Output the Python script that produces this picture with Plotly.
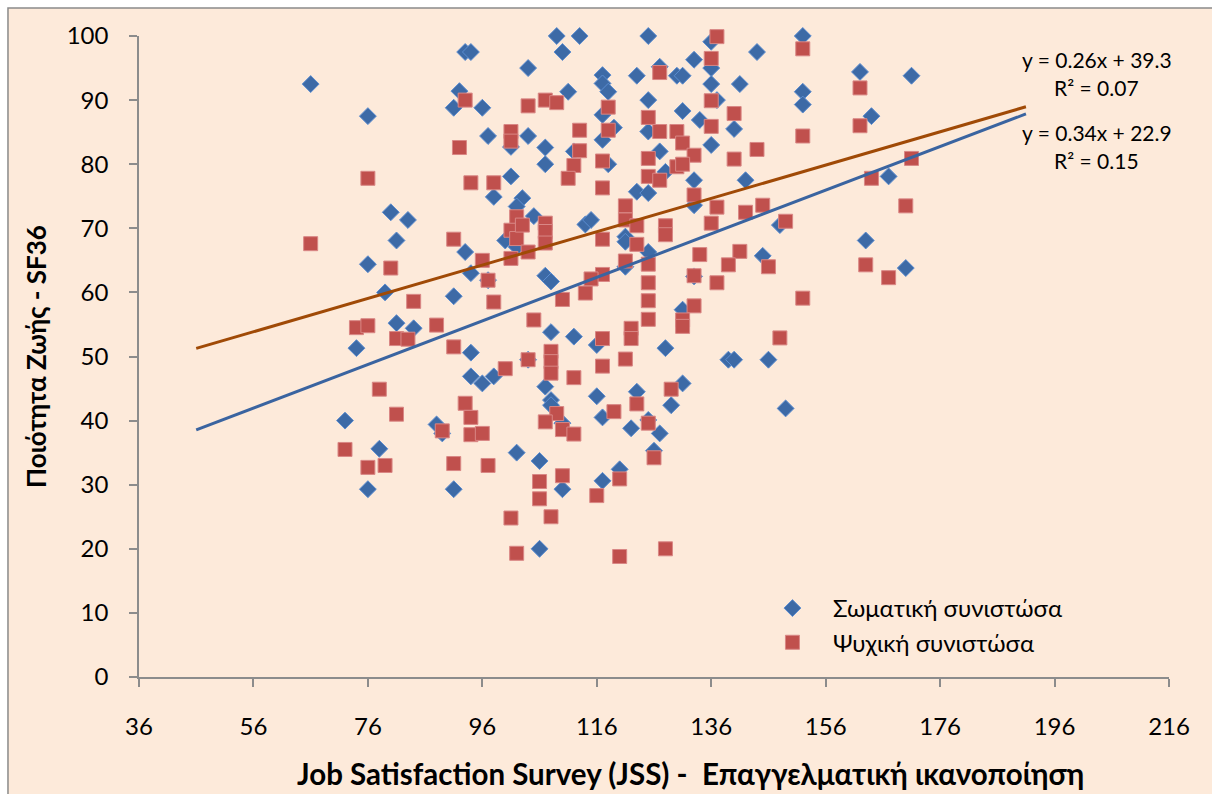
import plotly.graph_objects as go

# Σωματική συνιστώσα (physical component): JSS score vs SF36
jss_phys = [66, 76, 93, 94, 92, 91, 96, 97, 98, 80, 83, 81, 76, 93, 94, 79, 91, 97, 81, 84,
            74, 94, 94, 96, 98, 100, 72, 78, 76, 88, 89, 91, 109, 113, 125, 110, 104, 117, 117, 118,
            111, 123, 127, 130, 131, 133, 125, 131, 134, 117, 119, 104, 101, 107, 107, 112, 117, 118, 125, 127,
            128, 133, 101, 103, 123, 125, 152, 144, 141, 152, 152, 162, 171, 164, 140, 137, 136, 142, 167, 136,
            136, 136, 102, 105, 114, 115, 121, 121, 125, 121, 102, 107, 108, 133, 131, 108, 112, 116, 128, 104,
            107, 131, 133, 148, 163, 170, 145, 139, 140, 146, 108, 108, 110, 116, 123, 129, 117, 122, 125, 127,
            126, 102, 106, 110, 117, 120, 106, 149]
sf36_phys = [92.5, 87.5, 97.5, 97.5, 91.4, 88.8, 88.8, 84.4, 74.9, 72.5, 71.3, 68.1, 64.4, 66.3, 63.0, 60.0, 59.4, 61.9, 55.2, 54.4,
             51.3, 50.6, 46.9, 45.8, 46.9, 68.1, 40.0, 35.6, 29.3, 39.4, 38.0, 29.3, 100.0, 100.0, 100.0, 97.5, 95.0, 93.9, 92.6, 91.3,
             91.3, 93.8, 95.2, 93.8, 93.8, 96.3, 90.0, 88.3, 86.9, 87.7, 85.7, 84.4, 82.7, 82.6, 80.0, 82.0, 83.8, 80.0, 85.1, 82.0,
             78.8, 77.5, 78.1, 74.7, 75.7, 75.5, 100.0, 97.5, 92.5, 91.3, 89.3, 94.4, 93.8, 87.5, 85.5, 90.0, 83.0, 77.5, 78.1, 99.1,
             95.0, 92.5, 73.4, 71.9, 70.6, 71.3, 68.7, 67.9, 66.3, 64.0, 67.1, 62.6, 61.7, 62.5, 57.3, 53.8, 53.1, 51.8, 51.3, 49.5,
             45.3, 45.8, 73.6, 70.5, 68.1, 63.8, 65.7, 49.5, 49.5, 49.5, 43.2, 42.4, 39.6, 43.8, 44.5, 42.4, 40.5, 38.8, 40.1, 38.0,
             35.3, 35.0, 33.7, 29.3, 30.6, 32.4, 20.0, 41.9]

# Ψυχική συνιστώσα (mental component): JSS score vs SF36
jss_ment = [93, 92, 76, 94, 98, 66, 80, 91, 96, 97, 84, 98, 74, 76, 88, 81, 83, 91, 78, 81,
            72, 76, 79, 89, 93, 94, 94, 96, 91, 97, 127, 104, 107, 109, 118, 101, 101, 113, 118, 125,
            127, 130, 131, 133, 130, 131, 125, 125, 127, 113, 112, 111, 117, 117, 121, 133, 137, 152, 136, 162,
            136, 140, 162, 152, 136, 144, 140, 171, 164, 137, 145, 142, 170, 121, 123, 102, 101, 102, 103, 107,
            107, 107, 104, 101, 117, 123, 128, 128, 134, 121, 125, 125, 125, 125, 133, 133, 131, 131, 117, 115,
            114, 110, 105, 122, 122, 117, 108, 108, 108, 104, 100, 112, 117, 121, 136, 149, 141, 139, 146, 137,
            163, 167, 152, 148, 109, 107, 110, 112, 119, 123, 129, 125, 126, 110, 106, 106, 116, 120, 101, 108,
            102, 120, 128]
sf36_ment = [90.0, 82.6, 77.8, 77.1, 77.1, 67.6, 63.8, 68.3, 65.0, 61.9, 58.6, 58.5, 54.5, 54.8, 54.9, 52.8, 52.7, 51.5, 44.9, 41.0,
             35.5, 32.7, 33.0, 38.4, 42.7, 40.5, 37.8, 38.0, 33.3, 33.0, 94.3, 89.1, 90.0, 89.6, 88.9, 85.1, 83.6, 85.3, 85.3, 87.3,
             85.1, 85.1, 83.3, 81.4, 79.6, 80.0, 80.9, 78.1, 77.5, 82.1, 79.8, 77.8, 80.5, 76.3, 73.5, 75.2, 99.9, 98.0, 96.5, 91.9,
             89.9, 87.9, 86.0, 84.4, 85.9, 82.3, 80.8, 80.9, 77.8, 73.3, 73.6, 72.5, 73.5, 71.3, 70.4, 71.8, 69.7, 68.4, 70.5, 70.8,
             69.5, 67.7, 66.3, 65.3, 68.3, 67.5, 70.4, 69.0, 65.9, 64.9, 64.4, 61.5, 58.7, 55.8, 62.6, 57.9, 55.7, 54.7, 62.8, 62.1,
             59.9, 58.9, 55.7, 54.4, 52.8, 52.8, 50.8, 49.2, 47.4, 49.5, 48.1, 46.7, 48.5, 49.6, 70.8, 71.1, 66.4, 64.3, 64.0, 61.5,
             64.3, 62.3, 59.1, 52.9, 41.1, 39.8, 38.6, 37.9, 41.4, 42.6, 44.9, 39.6, 34.2, 31.4, 30.5, 27.8, 28.3, 30.9, 24.8, 25.0,
             19.3, 18.8, 20.0]

# Linear trendlines (slope, intercept, R²) and their x extent
trend_phys = (0.34, 22.9, 0.15)
trend_ment = (0.26, 39.3, 0.07)
trend_x = [46, 191]

x_ticks = list(range(36, 217, 20))
y_ticks = list(range(0, 101, 10))

x_title = "Job Satisfaction Survey (JSS) -  Επαγγελματική ικανοποίηση"
y_title = "Ποιότητα Ζωής - SF36"

FONT = "Lato"
BLUE = "#3D6AA6"
RED = "#C0504D"
BLUE_LINE = "#3A64A0"
BROWN_LINE = "#A04A06"
PEACH = "#FDEADA"
AXIS = "#8C8C8C"

fig = go.Figure()

fig.add_trace(go.Scatter(
    x=jss_phys, y=sf36_phys, mode="markers", name="Σωματική συνιστώσα",
    marker=dict(symbol="diamond", size=13, color=BLUE,
                line=dict(color="#5C8DD0", width=1)),
    cliponaxis=False,
))
fig.add_trace(go.Scatter(
    x=jss_ment, y=sf36_ment, mode="markers", name="Ψυχική συνιστώσα",
    marker=dict(symbol="square", size=14, color=RED,
                line=dict(color="#D98785", width=1)),
    cliponaxis=False,
))

for (slope, icept, r2), col in ((trend_ment, BROWN_LINE), (trend_phys, BLUE_LINE)):
    fig.add_trace(go.Scatter(
        x=trend_x, y=[slope * v + icept for v in trend_x], mode="lines",
        line=dict(color=col, width=3), showlegend=False, hoverinfo="skip",
    ))

# Trendline equations, one annotation per text line
for (slope, icept, r2), (y_eq, y_r2) in ((trend_ment, (0.9641, 0.9189)),
                                         (trend_phys, (0.8502, 0.8050))):
    for txt, ypos in ((f"y = {slope:.2f}x + {icept:.1f}", y_eq), (f"R² = {r2:.2f}", y_r2)):
        fig.add_annotation(
            xref="paper", yref="paper", x=0.930, y=ypos, xanchor="center", yanchor="middle",
            text=txt, showarrow=False,
            font=dict(family=FONT, size=21, color="#000000"),
        )

# Horizontal axis title
fig.add_annotation(
    xref="paper", yref="paper", x=0.5354, y=-0.1498, xanchor="center", yanchor="middle",
    text=f"<b>{x_title}</b>", showarrow=False,
    font=dict(family=FONT, size=29.5, color="#000000"),
)

# Peach chart area with a thin border
fig.add_shape(type="rect", xref="paper", yref="paper",
              x0=-0.1272, x1=1.06, y0=-0.25, y1=1.0437,
              fillcolor=PEACH, line=dict(color="#8A8A8A", width=1.5), layer="below")

fig.update_layout(
    width=1212, height=794,
    margin=dict(l=139, r=43, t=36, b=117, autoexpand=False),
    paper_bgcolor="white", plot_bgcolor="white",
    font=dict(family=FONT, color="#000000"),
    showlegend=True,
    legend=dict(
        x=0.5951, y=0.142, xanchor="left", yanchor="top",
        bgcolor="rgba(255,255,255,0)", borderwidth=0,
        font=dict(family=FONT, size=24, color="#000000"),
        itemwidth=71, tracegroupgap=0,
    ),
)

fig.update_xaxes(
    range=[36, 216], tickvals=x_ticks, ticktext=[str(v) for v in x_ticks],
    showgrid=False, zeroline=False, showline=True, linecolor=AXIS, linewidth=1.5,
    ticks="outside", ticklen=8, tickcolor=AXIS, tickwidth=1.5,
    tickfont=dict(family=FONT, size=24), ticklabelstandoff=19,
    automargin=False,
)
fig.update_yaxes(
    range=[0, 100], tickvals=y_ticks, ticktext=[str(v) for v in y_ticks],
    showgrid=False, zeroline=False, showline=True, linecolor=AXIS, linewidth=1.5,
    ticks="outside", ticklen=8, tickcolor=AXIS, tickwidth=1.5,
    tickfont=dict(family=FONT, size=24), ticklabelstandoff=16,
    title=dict(text=f"<b>{y_title}</b>", font=dict(family=FONT, size=26), standoff=13),
    automargin=False,
)

fig.write_html("out.html")
